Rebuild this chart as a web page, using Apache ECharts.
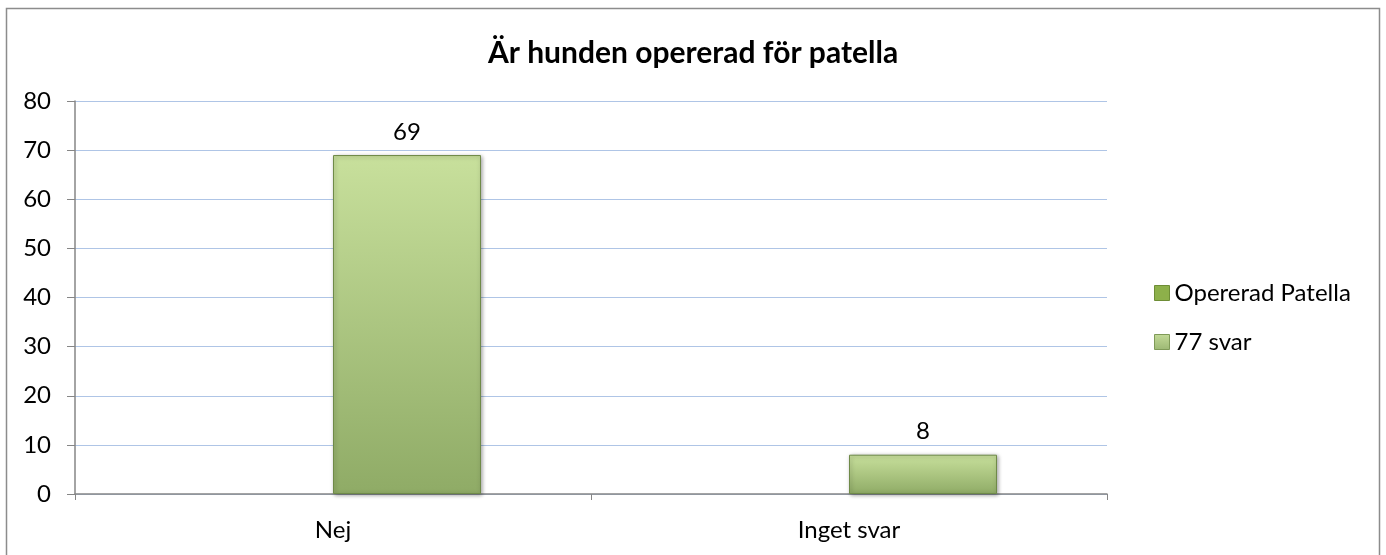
<!DOCTYPE html>
<html><head><meta charset="utf-8">
<script src="https://cdn.jsdelivr.net/npm/echarts@6/dist/echarts.min.js"></script>
<style>html,body{margin:0;padding:0;background:#fff}#c{width:1386px;height:555px}</style>
</head><body><div id="c"></div>
<script>
const categories = ['Nej', 'Inget svar'];
const seriesNames = ['Opererad Patella', '77 svar'];
const operaradValues = [null, null];
const svarValues = [69, 8];
const yTicks = { min: 0, max: 80, interval: 10 };

const FONT = 'Lato';
const chart = echarts.init(document.getElementById('c'));
const barGrad = new echarts.graphic.LinearGradient(0, 0, 0, 1, [
  { offset: 0, color: '#c8e09c' },
  { offset: 1, color: '#8fab66' }
]);
const iconGrad = new echarts.graphic.LinearGradient(0, 0, 0, 1, [
  { offset: 0, color: '#c3da98' },
  { offset: 1, color: '#9cb874' }
]);
chart.setOption({
  animation: false,
  title: {
    text: 'Är hunden opererad för patella',
    left: 'center', top: 33,
    textStyle: { fontFamily: FONT, fontSize: 30, fontWeight: 'bold', color: '#000' }
  },
  legend: {
    orient: 'vertical', left: 1149, top: 276,
    itemWidth: 15, itemHeight: 15, itemGap: 25,
    textStyle: { fontFamily: FONT, fontSize: 24, color: '#000' },
    data: [
      { name: seriesNames[0], icon: 'rect', itemStyle: { color: '#8db04a', borderColor: '#6e8d36', borderWidth: 1 } },
      { name: seriesNames[1], icon: 'rect', itemStyle: { color: iconGrad, borderColor: '#7f9a58', borderWidth: 1 } }
    ]
  },
  grid: { left: 75, right: 279, top: 101, bottom: 61, containLabel: false },
  xAxis: {
    type: 'category', data: categories,
    axisLine: { lineStyle: { color: '#868686', width: 1.5 } },
    axisTick: { show: true, length: 6, alignWithLabel: false, lineStyle: { color: '#868686' } },
    axisLabel: { fontFamily: FONT, fontSize: 24, color: '#000', margin: 24 }
  },
  yAxis: {
    type: 'value', min: yTicks.min, max: yTicks.max, interval: yTicks.interval,
    axisLine: { show: true, lineStyle: { color: '#868686', width: 1.5 } },
    axisTick: { show: true, length: 8, inside: false, lineStyle: { color: '#868686' } },
    axisLabel: { fontFamily: FONT, fontSize: 24, color: '#000', margin: 24 },
    splitLine: { lineStyle: { color: '#afc5e6', width: 1 } }
  },
  series: [
    {
      name: seriesNames[0], type: 'bar', data: operaradValues,
      barWidth: 148, barGap: '0%',
      itemStyle: { color: '#8db04a' }
    },
    {
      name: seriesNames[1], type: 'bar', data: svarValues,
      barWidth: 148, barGap: '0%',
      itemStyle: {
        color: barGrad, borderColor: '#6f8a48', borderWidth: 1,
        shadowColor: 'rgba(0,0,0,0.35)', shadowBlur: 4, shadowOffsetX: 1, shadowOffsetY: 1
      },
      label: { show: true, position: 'top', distance: 11, fontFamily: FONT, fontSize: 24, color: '#000' }
    }
  ],
  graphic: [{
    type: 'rect', shape: { x: 6.5, y: 8.5, width: 1373, height: 600 },
    style: { fill: 'none', stroke: '#8c8c8c', lineWidth: 1.5 }, silent: true, z: -1
  }]
});
</script></body></html>
